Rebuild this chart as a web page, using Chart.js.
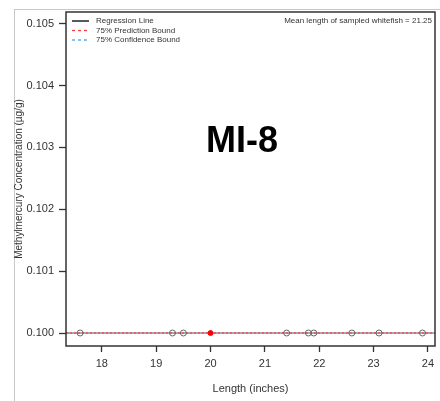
<!DOCTYPE html>
<html>
<head>
<meta charset="utf-8">
<script src="https://cdn.jsdelivr.net/npm/chart.js@4"></script>
<style>
  html, body { margin: 0; padding: 0; background: #fff; }
  #wrap { position: relative; width: 440px; height: 401px; }
  #frame { position: absolute; left: 14px; top: 9px; right: 0; bottom: 0;
           border-top: 1px solid #c8c8c8; border-left: 1px solid #c8c8c8; }
  canvas { position: absolute; left: 0; top: 0; }
</style>
</head>
<body>
<div id="wrap">
  <div id="frame"></div>
  <canvas id="grafico" width="440" height="401"></canvas>
</div>
<script>
// datos
const longitudes = [17.6, 19.3, 19.5, 21.4, 21.8, 21.9, 22.6, 23.1, 23.9];
const concentraciones = [0.100, 0.100, 0.100, 0.100, 0.100, 0.100, 0.100, 0.100, 0.100];
const puntoRojo = [20.0];
const puntoRojoConc = [0.100];
const lineaX = [17.34, 24.13];
const regresion = [0.100, 0.100];
const prediccion = [0.100, 0.100];
const confianza = [0.100, 0.100];
const ticksX = [18, 19, 20, 21, 22, 23, 24];
const ticksY = [0.100, 0.101, 0.102, 0.103, 0.104, 0.105];
const longitudMedia = 21.25;
const etiquetaSitio = 'MI-8';

const fuente = "'Liberation Sans', Arial, sans-serif";
const gris = '#333333';

const pares = (xs, ys) => xs.map((x, i) => ({ x: x, y: ys[i] }));

// caja del area de dibujo, leyenda y textos
const extras = {
  id: 'extras',
  afterDraw(chart) {
    const { ctx, chartArea: a } = chart;
    ctx.save();
    ctx.strokeStyle = gris;
    ctx.lineWidth = 1.5;
    ctx.strokeRect(a.left, a.top, a.right - a.left, a.bottom - a.top);

    // leyenda
    const filas = [
      { texto: 'Regression Line', color: '#000000', dash: [] },
      { texto: '75% Prediction Bound', color: '#ff3b3b', dash: [3, 3] },
      { texto: '75% Confidence Bound', color: '#3aa0ff', dash: [3, 3] }
    ];
    ctx.font = '8px ' + fuente;
    ctx.textBaseline = 'middle';
    filas.forEach((f, i) => {
      const y = 21 + i * 9.5;
      ctx.beginPath();
      ctx.setLineDash(f.dash);
      ctx.strokeStyle = f.color;
      ctx.lineWidth = 1.3;
      ctx.moveTo(72, y);
      ctx.lineTo(89, y);
      ctx.stroke();
      ctx.setLineDash([]);
      ctx.fillStyle = '#333';
      ctx.textAlign = 'left';
      ctx.fillText(f.texto, 96, y);
    });
    ctx.textAlign = 'right';
    ctx.fillText('Mean length of sampled whitefish = ' + longitudMedia.toFixed(2), a.right - 3, 21);

    ctx.font = 'bold 36px ' + fuente;
    ctx.fillStyle = '#000';
    ctx.textAlign = 'center';
    ctx.textBaseline = 'alphabetic';
    ctx.fillText(etiquetaSitio, 242, 152);
    ctx.restore();
  }
};

// el primer dataset queda dibujado encima
new Chart(document.getElementById('grafico'), {
  type: 'scatter',
  data: {
    datasets: [
      {
        data: pares(puntoRojo, puntoRojoConc),
        pointRadius: 2.5,
        pointBorderColor: '#ff0000',
        pointBackgroundColor: '#ff0000',
        pointBorderWidth: 1
      },
      {
        data: pares(longitudes, concentraciones),
        pointRadius: 3,
        pointBorderColor: '#666666',
        pointBackgroundColor: 'rgba(0,0,0,0)',
        pointBorderWidth: 1
      },
      {
        type: 'line',
        data: pares(lineaX, prediccion),
        borderColor: '#ff5c5c',
        borderWidth: 1.5,
        borderDash: [2, 2],
        pointRadius: 0
      },
      {
        type: 'line',
        data: pares(lineaX, regresion),
        borderColor: '#555555',
        borderWidth: 1,
        pointRadius: 0
      },
      {
        type: 'line',
        data: pares(lineaX, confianza),
        borderColor: '#3aa0ff',
        borderWidth: 1.2,
        borderDash: [2, 2],
        pointRadius: 0
      }
    ]
  },
  options: {
    responsive: false,
    animation: false,
    layout: { padding: { top: 12, right: 2, left: 0, bottom: 0 } },
    plugins: {
      legend: { display: false },
      tooltip: { enabled: false }
    },
    scales: {
      x: {
        type: 'linear',
        min: lineaX[0],
        max: lineaX[1],
        afterBuildTicks: s => { s.ticks = ticksX.map(v => ({ value: v })); },
        afterFit: s => { s.height = 55; },
        grid: { drawOnChartArea: false, drawTicks: true, tickLength: 6, color: gris, tickWidth: 1.3 },
        border: { display: false },
        ticks: { color: '#333', font: { family: fuente, size: 11 }, padding: 5, maxRotation: 0 },
        title: { display: true, text: 'Length (inches)', color: '#333',
                 font: { family: fuente, size: 11 }, padding: { bottom: 5 } }
      },
      y: {
        type: 'linear',
        min: 0.09979,
        max: 0.10519,
        afterBuildTicks: s => { s.ticks = ticksY.map(v => ({ value: v })); },
        afterFit: s => { s.width = 66; },
        grid: { drawOnChartArea: false, drawTicks: true, tickLength: 7, color: gris, tickWidth: 1.3 },
        border: { display: false },
        ticks: { color: '#333', font: { family: fuente, size: 11 }, padding: 5,
                 callback: v => v.toFixed(3) },
        title: { display: true, text: 'Methylmercury Concentration (µg/g)', color: '#333',
                 font: { family: fuente, size: 10 }, padding: { top: 13 } }
      }
    }
  },
  plugins: [extras]
});
</script>
</body>
</html>
